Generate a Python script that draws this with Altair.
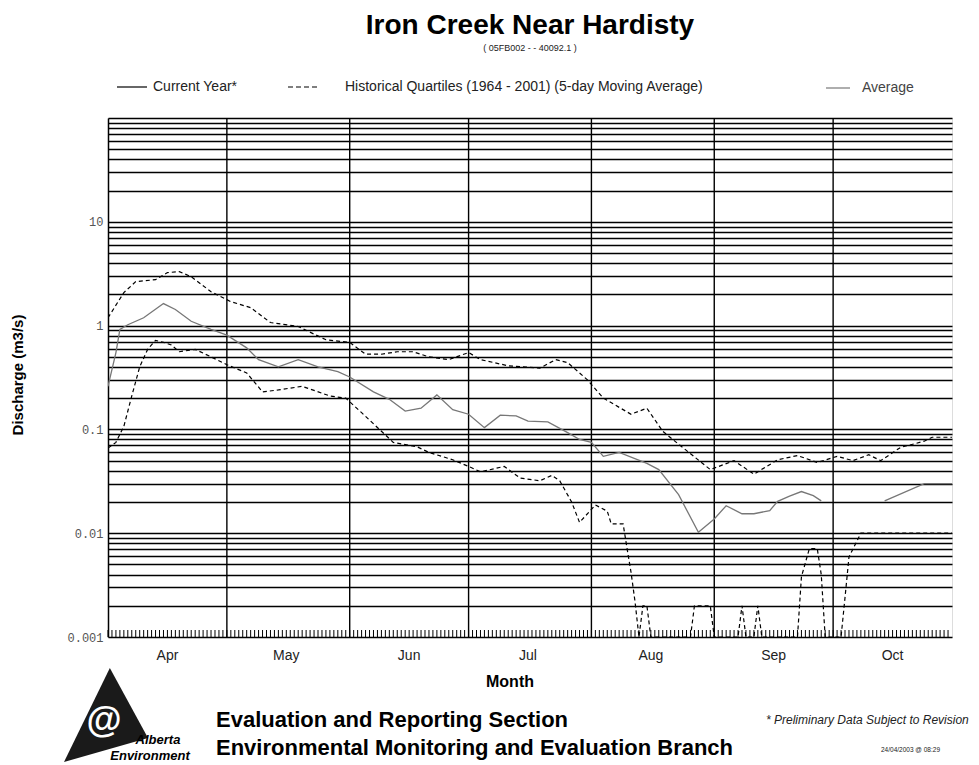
import altair as alt
import pandas as pd

YEAR = 2003

# ---- data (month-day, m3/s) ----
upper_days = ["04-01", "04-05", "04-08", "04-13", "04-16", "04-19", "04-22", "04-27",
              "05-02", "05-07", "05-12", "05-19", "05-26", "06-01", "06-05", "06-09",
              "06-13", "06-17", "06-21", "06-26", "07-01", "07-04", "07-11", "07-19",
              "07-23", "07-26", "07-31", "08-04", "08-11", "08-15", "08-19", "08-23",
              "08-31", "09-06", "09-11", "09-17", "09-22", "09-27", "10-02", "10-06",
              "10-10", "10-13", "10-18", "10-24", "10-26", "10-31"]
upper_vals = [1.19, 2.08, 2.65, 2.77, 3.24, 3.31, 2.96, 2.12,
              1.70, 1.49, 1.07, 0.98, 0.73, 0.69, 0.53, 0.53,
              0.56, 0.56, 0.50, 0.47, 0.55, 0.47, 0.41, 0.39,
              0.47, 0.44, 0.30, 0.20, 0.14, 0.16, 0.096, 0.072,
              0.041, 0.050, 0.037, 0.051, 0.056, 0.048, 0.055, 0.050,
              0.057, 0.050, 0.067, 0.077, 0.084, 0.084]

lower_days = ["04-01", "04-03", "04-05", "04-07", "04-09", "04-11", "04-13", "04-15",
              "04-17", "04-19", "04-23", "04-27", "05-01", "05-06", "05-10", "05-14",
              "05-20", "05-27", "05-31", "06-04", "06-09", "06-12", "06-18", "06-21",
              "06-27", "07-01", "07-04", "07-10", "07-14", "07-19", "07-22", "07-24",
              "07-27", "07-29", "08-02", "08-05", "08-06", "08-09", "08-10", "08-11",
              "08-12", "08-13", "08-14", "08-15", "08-16", "08-26", "08-27", "08-31",
              "09-01", "09-07", "09-08", "09-09", "09-11", "09-12", "09-13", "09-22",
              "09-23", "09-25", "09-27", "09-28", "09-29", "10-03", "10-04", "10-05",
              "10-08", "10-31"]
lower_vals = [0.066, 0.075, 0.107, 0.21, 0.40, 0.59, 0.72, 0.69,
              0.65, 0.56, 0.59, 0.50, 0.42, 0.35, 0.23, 0.24,
              0.26, 0.21, 0.20, 0.145, 0.096, 0.075, 0.068, 0.060,
              0.051, 0.044, 0.039, 0.044, 0.034, 0.032, 0.036, 0.032,
              0.020, 0.0127, 0.0187, 0.0163, 0.0123, 0.0123, 0.0071, 0.0042,
              0.0022, 0.001, 0.002, 0.002, 0.001, 0.001, 0.002, 0.002,
              0.001, 0.001, 0.002, 0.001, 0.001, 0.002, 0.001, 0.001,
              0.0038, 0.0071, 0.0071, 0.004, 0.001, 0.001, 0.0024, 0.0059,
              0.010, 0.010]

# None marks a gap in the record
avg_days = ["04-01", "04-03", "04-04", "04-06", "04-10", "04-15", "04-18", "04-22",
            "04-27", "05-01", "05-06", "05-09", "05-14", "05-19", "05-24", "05-29",
            "06-01", "06-07", "06-11", "06-15", "06-19", "06-23", "06-27", "07-01",
            "07-05", "07-09", "07-13", "07-16", "07-21", "07-26", "07-29", "08-01",
            "08-04", "08-08", "08-15", "08-18", "08-23", "08-28", "09-01", "09-04",
            "09-08", "09-11", "09-15", "09-17", "09-20", "09-23", "09-26", "09-28",
            None, "10-14", "10-24", "10-31"]
avg_vals = [0.26, 0.55, 0.92, 1.02, 1.19, 1.63, 1.43, 1.10,
            0.92, 0.81, 0.61, 0.47, 0.40, 0.47, 0.40, 0.36,
            0.32, 0.23, 0.195, 0.15, 0.16, 0.215, 0.155, 0.14,
            0.104, 0.137, 0.135, 0.12, 0.118, 0.093, 0.08, 0.075,
            0.055, 0.060, 0.047, 0.041, 0.0235, 0.0102, 0.0137, 0.0184,
            0.0154, 0.0154, 0.0165, 0.0203, 0.0228, 0.0252, 0.023, 0.0205,
            None, 0.0205, 0.030, 0.030]

month_starts = ["05-01", "06-01", "07-01", "08-01", "09-01", "10-01"]
month_names = ["Apr", "May", "Jun", "Jul", "Aug", "Sep", "Oct"]
month_mids = ["04-16", "05-16", "06-16", "07-16", "08-16", "09-16", "10-16"]

y_labels = [0.001, 0.01, 0.1, 1, 10]


def ts(md):
    return f"{YEAR}-{md}T00:00:00"


# ---- tables ----
upper_df = pd.DataFrame({"date": [ts(m) for m in upper_days], "q": upper_vals})
lower_df = pd.DataFrame({"date": [ts(m) for m in lower_days], "q": lower_vals})

rows, seg = [], 0
for dd, vv in zip(avg_days, avg_vals):
    if dd is None:
        seg += 1
        continue
    rows.append({"date": ts(dd), "q": vv, "seg": seg})
avg_df = pd.DataFrame(rows)

days_df = pd.DataFrame({"date": pd.date_range(f"{YEAR}-04-01", f"{YEAR}-10-30", freq="D")
                        .strftime("%Y-%m-%dT00:00:00")})
months_df = pd.DataFrame({"date": [ts(m) for m in month_starts]})
mlab_df = pd.DataFrame({"date": [ts(m) for m in month_mids], "name": month_names})

W, H = 844, 519
y_grid = sorted(set([round(m * 10 ** k, 6) for k in range(-3, 2) for m in range(1, 10)] + [100]))

xscale = alt.Scale(domain=[alt.DateTime(year=YEAR, month=4, date=1),
                           alt.DateTime(year=YEAR, month=10, date=31)])
yscale = alt.Scale(type="log", domain=[0.001, 100], clamp=True)

label_test = " || ".join(f"datum.value == {v}" for v in y_labels)
yaxis = alt.Axis(values=y_grid, grid=True, gridColor="#000", gridWidth=1.4, gridOpacity=1,
                 ticks=False, domain=True, domainColor="#000", domainWidth=1.5,
                 labelExpr=f"({label_test}) ? datum.label : ''", format="~g",
                 labelFont="Liberation Mono", labelFontSize=12, labelColor="#555",
                 labelPadding=5, title=None)

X = alt.X("date:T", scale=xscale, axis=None)
Y = alt.Y("q:Q", scale=yscale, axis=yaxis)

grid_v = alt.Chart(months_df).mark_rule(color="#000", strokeWidth=1.4).encode(x=X)

base_y = alt.Chart(upper_df).mark_line(opacity=0).encode(x=X, y=Y)

day_ticks = alt.Chart(days_df).mark_rule(color="#000", strokeWidth=1).encode(
    x=X, y=alt.value(H), y2=alt.value(H - 7))

upper = alt.Chart(upper_df).mark_line(color="#000", strokeWidth=1.2, strokeDash=[4, 3],
                                      clip=True).encode(
    x=X, y=alt.Y("q:Q", scale=yscale))
lower = alt.Chart(lower_df).mark_line(color="#000", strokeWidth=1.2, strokeDash=[4, 3],
                                      clip=True).encode(
    x=X, y=alt.Y("q:Q", scale=yscale))
avg = alt.Chart(avg_df).mark_line(color="#777", strokeWidth=1.3, clip=True).encode(
    x=X, y=alt.Y("q:Q", scale=yscale), detail="seg:N")

mlabels = alt.Chart(mlab_df).mark_text(font="Liberation Sans", fontSize=14, color="#222",
                                       baseline="middle").encode(
    x=X, y=alt.value(H + 19), text="name:N")

one = alt.Data(values=[{"a": 1}])


def txt(s, x, y, size, weight="normal", style="normal", align="center", color="#000",
        angle=0, font="Liberation Sans"):
    return alt.Chart(one).mark_text(text=s, fontSize=size, fontWeight=weight, fontStyle=style,
                                    align=align, baseline="middle", color=color, angle=angle,
                                    font=font).encode(x=alt.value(x), y=alt.value(y))


def seg_rule(x1, x2, y, color="#000", dash=None, width=1.2):
    kw = dict(color=color, strokeWidth=width)
    if dash:
        kw["strokeDash"] = dash
    return alt.Chart(one).mark_rule(**kw).encode(x=alt.value(x1), x2=alt.value(x2),
                                                 y=alt.value(y))


decor = [
    txt("Iron Creek Near Hardisty", 422, -92, 28, weight="bold"),
    txt("( 05FB002 -  - 40092.1 )", 422, -70, 9, color="#222"),
    seg_rule(9, 39, -31),
    txt("Current Year*", 45, -31, 14, align="left", color="#222"),
    seg_rule(180, 212, -31, dash=[5, 3]),
    txt("Historical Quartiles (1964  -  2001)  (5-day Moving Average)", 237, -31, 14,
        align="left", color="#222"),
    seg_rule(718, 742, -30, color="#777"),
    txt("Average", 754, -30, 14, align="left", color="#444"),
    txt("Discharge (m3/s)", -90, 257, 15, weight="bold", angle=270),
    txt("Month", 402, 564, 16, weight="bold"),
    txt("Evaluation and Reporting Section", 108, 602, 22, weight="bold", align="left"),
    txt("Environmental Monitoring and Evaluation Branch", 108, 630, 22, weight="bold",
        align="left"),
    txt("* Preliminary Data Subject to Revision", 658, 602, 12, style="italic", align="left",
        color="#222"),
    txt("24/04/2003 @ 08:29", 773, 632, 6.5, align="left", color="#222"),
    alt.Chart(one).mark_point(shape="M0.08,-0.98L-0.875,0.98L0.875,0.48Z", filled=True,
                              color="#1a1a1a", opacity=1, size=9216).encode(
        x=alt.value(-2), y=alt.value(597)),
    alt.Chart(one).mark_text(text="@", fontSize=36, fontWeight="bold",
                             color="#fff").encode(x=alt.value(-4), y=alt.value(603)),
    txt("Alberta", 50, 622, 13, style="italic", weight="bold"),
    txt("Environment", 42, 638, 13, style="italic", weight="bold"),
]

chart = alt.layer(base_y, grid_v, day_ticks, upper, lower, avg, mlabels, *decor).properties(
    width=W, height=H,
    autosize=alt.AutoSizeParams(type="none"),
    padding={"left": 100, "top": 110, "right": 19, "bottom": 128},
).configure_view(stroke="#000", strokeWidth=1.5).configure(background="#fff")

chart.save("out.html", embed_options={"renderer": "svg", "actions": False})
